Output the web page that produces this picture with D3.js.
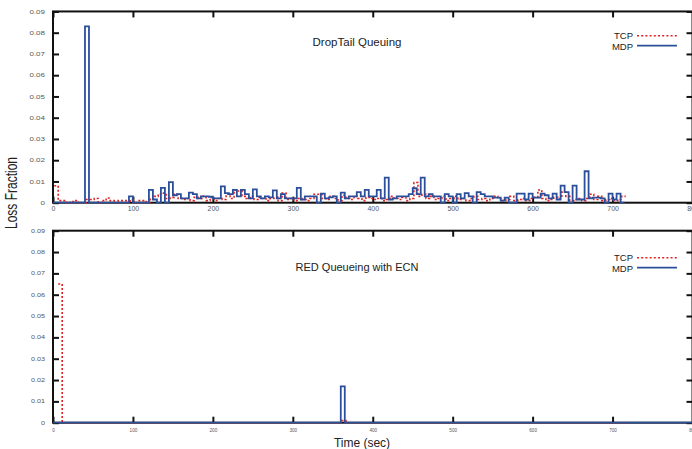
<!DOCTYPE html>
<html><head><meta charset="utf-8">
<script src="https://cdn.jsdelivr.net/npm/d3@7"></script>
<style>
html,body{margin:0;padding:0;background:#fff;}
svg{display:block;font-family:"Liberation Sans",Arial,Helvetica,sans-serif;}
</style></head><body>
<svg id="chart" width="692" height="449"></svg>
<script>
// ---------- data ----------
const binSec = 5;
const xTicks = [0,100,200,300,400,500,600,700,800];
const xTickLabels = ["0","100","200","300","400","500","600","700","800"];
const yTicks = [0,0.01,0.02,0.03,0.04,0.05,0.06,0.07,0.08,0.09];
const yTickLabels = ["0","0.01","0.02","0.03","0.04","0.05","0.06","0.07","0.08","0.09"];
const seriesNames = ["TCP","MDP"];
const panelTitles = ["DropTail Queuing","RED Queueing with ECN"];

// DropTail: loss fraction per 5 s bin
const mdpTopStart = 0;
const mdpTop = [0,0,0,0,0,0,0,0,
0.083,
0,0,0,0,0,0,0,0,0,0,
0.003,
0,0,0,0,
0.006,0.0015,0,0.007,0,0.0097,
0.0035,0.004,0.002,0.002,0.0047,0.004,0.002,0.003,0.003,0.0028,
0.002,0.002,0.0077,0.0045,0.004,0.006,0.003,0.006,0.004,0.002,
0.0063,0.003,0.002,0.003,0.0025,0.0058,0.002,0.004,0.002,0.002,
0.002,0.007,0.0015,0.003,0.003,0.003,0,0.0043,0.002,0.0025,
0.003,0,0.0047,0.002,0.003,0.003,0.005,0.003,0.006,0.003,
0.003,0.006,0.002,0.0118,0.0015,0.002,0.003,0.003,0.003,0.004,
0.0068,0.004,0.0118,0.003,0.004,0.003,0.003,0,0.004,0.003,
0,0.004,0.002,0.0045,0.003,0,0.005,0.004,0.003,0.003,
0.0024,0.0024,0.001,0.0024,0,0,0.0043,0.0043,0.0015,0.0043,
0.0024,0.0024,0.0043,0.0035,0.002,0.0043,0.0015,0.008,0.005,0,
0.008,0.0015,0.0015,0.0148,0.002,0.0024,0.0024,0.002,0,0.0043,
0.0015,0.0043,0];

const tcpTopStart = 1.5;
const tcpTop = [0.008,0.001,0.001,0,0.0005,0.001,0,0,0.0015,0.0015,
0.002,0,0.001,0.0022,0.001,0,0.001,0.001,0,0.0015,
0,0.001,0.001,0,0.002,0.003,0.004,0.0045,0.002,0.0025,
0.004,0.002,0.0015,0.002,0.001,0.0025,0.002,0.003,0.001,0.0025,
0.001,0.002,0.0015,0.004,0.002,0.006,0.0055,0.003,0.002,0.003,
0.0015,0.0025,0.002,0.001,0.002,0.0025,0.001,0.0045,0.0015,0.002,
0.001,0.002,0.0015,0.001,0.002,0.004,0.004,0.002,0.0015,0.003,
0.002,0.001,0.0035,0.002,0.0015,0.003,0.002,0.001,0.0025,0.002,
0.0015,0.002,0.001,0.0015,0.003,0.002,0.0015,0.0025,0.001,0.002,
0.0095,0.003,0.004,0.002,0.003,0.0015,0.002,0.003,0.001,0.002,
0.003,0.0015,0.002,0.001,0.002,0.003,0.0015,0.002,0.001,0.002,
0.003,0.002,0.001,0.0015,0.003,0.001,0.0015,0.002,0.001,0.002,
0.0025,0.006,0.002,0.001,0.0015,0.0025,0.002,0.005,0.003,0.001,
0.0015,0.002,0.001,0.002,0.004,0.0015,0.003,0.001,0.0015,0.002,
0.001,0.0015,0.003];

// RED with ECN
const mdpBottomStart = 0;
const mdpBottom = [0,0,0,0,0,0,0,0,0,0,
0,0,0,0,0,0,0,0,0,0,
0,0,0,0,0,0,0,0,0,0,
0,0,0,0,0,0,0,0,0,0,
0,0,0,0,0,0,0,0,0,0,
0,0,0,0,0,0,0,0,0,0,
0,0,0,0,0,0,0,0,0,0,
0,0,0.017,0,0,0,0,0,0,0,
0,0,0,0,0,0,0,0,0,0,
0,0,0,0,0,0,0,0,0,0,
0,0,0,0,0,0,0,0,0,0,
0,0,0,0,0,0,0,0,0,0,
0,0,0,0,0,0,0,0,0,0,
0,0,0,0,0,0,0,0,0,0,
0,0,0,0,0,0,0,0,0,0,
0,0,0,0,0,0,0,0,0,0];

const tcpBottomStart = 6.5;
const tcpBottom = [0.065,0,0,0,0,0,0,0,0,0,
0,0,0,0,0,0,0,0,0,0,
0,0,0,0,0,0,0,0,0,0,
0,0,0,0,0,0,0,0,0,0,
0,0,0,0,0,0,0,0,0,0,
0,0,0,0,0,0,0,0,0,0,
0,0,0,0,0,0,0,0,0,0,
0,0.001,0,0,0,0,0,0,0,0,
0,0,0,0,0,0,0,0,0,0,
0,0,0,0,0,0,0,0,0,0,
0,0,0,0,0,0,0,0,0,0,
0,0,0,0,0,0,0,0,0,0,
0,0,0,0,0,0,0,0,0,0,
0,0,0,0,0,0,0,0,0,0,
0,0];

// ---------- drawing ----------
const RED = "#dd2222", BLUE = "#2c4f9c";
const svg = d3.select("#chart");
const x = d3.scaleLinear().domain([0,800]).range([53,692.5]);

const panels = [
  {title:panelTitles[0], top:11.45, bottom:202.7, mdp:mdpTop, mdpStart:mdpTopStart,
   tcp:tcpTop, tcpStart:tcpTopStart, yFont:5.5, yFactor:1.45, xFont:6.3, xFactor:1.1, xPad:4.3, legY:35.7, titleY:46, titleFont:11.5},
  {title:panelTitles[1], top:230.7, bottom:422.7, mdp:mdpBottom, mdpStart:mdpBottomStart,
   tcp:tcpBottom, tcpStart:tcpBottomStart, yFont:5, yFactor:1.45, xFont:4.6, xFactor:1.0, xPad:6.5, legY:257.7, titleY:271, titleFont:11}
];

function stretch(sel, f){
  sel.each(function(){
    const w = this.getComputedTextLength();
    if (w > 0) d3.select(this).attr("textLength", w*f).attr("lengthAdjust","spacingAndGlyphs");
  });
}

function stepPoints(values, start){
  const pts = values.map((v,i)=>[start + i*binSec, v]);
  pts.push([start + values.length*binSec, values[values.length-1]]);
  return pts;
}

panels.forEach((p, pi) => {
  const y = d3.scaleLinear().domain([0,0.09]).range([p.bottom, p.top]);
  const g = svg.append("g");
  const x0 = x.range()[0], x1 = x.range()[1];

  const styleAxis = a => {
    a.select(".domain").remove();
    a.selectAll(".tick line").attr("stroke","#111").attr("stroke-width",2);
  };
  const ax = g.append("g").attr("transform",`translate(0,${p.bottom})`)
    .call(d3.axisBottom(x).tickValues(xTicks).tickSize(-6).tickPadding(p.xPad)
      .tickFormat((d,i)=>xTickLabels[i]));
  styleAxis(ax);
  ax.selectAll(".tick text").attr("font-size",p.xFont).attr("fill","#555")
    .attr("font-family","Liberation Sans, Arial, sans-serif");
  stretch(ax.selectAll(".tick text"), p.xFactor);

  const axT = g.append("g").attr("transform",`translate(0,${p.top})`)
    .call(d3.axisTop(x).tickValues(xTicks).tickSize(-6).tickFormat(""));
  styleAxis(axT);

  const ay = g.append("g").attr("transform",`translate(${x0},0)`)
    .call(d3.axisLeft(y).tickValues(yTicks).tickSize(-6).tickPadding(8)
      .tickFormat((d,i)=>yTickLabels[i]));
  styleAxis(ay);
  ay.selectAll(".tick text").attr("font-size",p.yFont).attr("fill","#555")
    .attr("font-family","Liberation Sans, Arial, sans-serif");
  stretch(ay.selectAll(".tick text"), p.yFactor);

  const ayR = g.append("g").attr("transform",`translate(${x1},0)`)
    .call(d3.axisRight(y).tickValues(yTicks).tickSize(-6).tickFormat(""));
  styleAxis(ayR);

  g.append("rect").attr("x",x0).attr("y",p.top).attr("width",x1-x0).attr("height",p.bottom-p.top)
    .attr("fill","none").attr("stroke","#111").attr("stroke-width",2);

  const cid = "clip"+pi;
  svg.append("clipPath").attr("id",cid).append("rect")
    .attr("x",x0).attr("y",p.top-2).attr("width",x1-x0).attr("height",p.bottom-p.top+3);
  const line = d3.line().x(d=>x(d[0])).y(d=>y(d[1])).curve(d3.curveStepAfter);
  const dg = g.append("g").attr("clip-path",`url(#${cid})`);
  dg.append("path").attr("d", line(stepPoints(p.tcp, p.tcpStart)))
    .attr("fill","none").attr("stroke",RED).attr("stroke-width",1.6).attr("stroke-dasharray","2,2");
  dg.append("path").attr("d", line(stepPoints(p.mdp, p.mdpStart)))
    .attr("fill","none").attr("stroke",BLUE).attr("stroke-width",1.8);

  g.append("text").attr("x",357).attr("y",p.titleY).attr("text-anchor","middle")
    .attr("font-size",p.titleFont).attr("fill","#222").text(p.title);

  // legend
  [0,1].forEach(k=>{
    const ly = p.legY + k*10;
    g.append("text").attr("x",633).attr("y",ly + (k===0?3.2:4.4)).attr("text-anchor","end")
      .attr("font-size",9.5).attr("fill","#222").text(seriesNames[k]);
    g.append("line").attr("x1",637).attr("x2",677).attr("y1",ly).attr("y2",ly)
      .attr("stroke", k===0?RED:BLUE).attr("stroke-width",k===0?1.6:1.8)
      .attr("stroke-dasharray", k===0?"2,2.2":null);
  });
});

svg.append("text").attr("transform","translate(17,193) scale(1.3,1) rotate(-90)")
  .attr("text-anchor","middle").attr("font-size",12).attr("fill","#222").text("Loss Fraction");
svg.append("text").attr("x",362).attr("y",447).attr("text-anchor","middle")
  .attr("font-size",12).attr("fill","#222").text("Time (sec)");
</script>
</body></html>
